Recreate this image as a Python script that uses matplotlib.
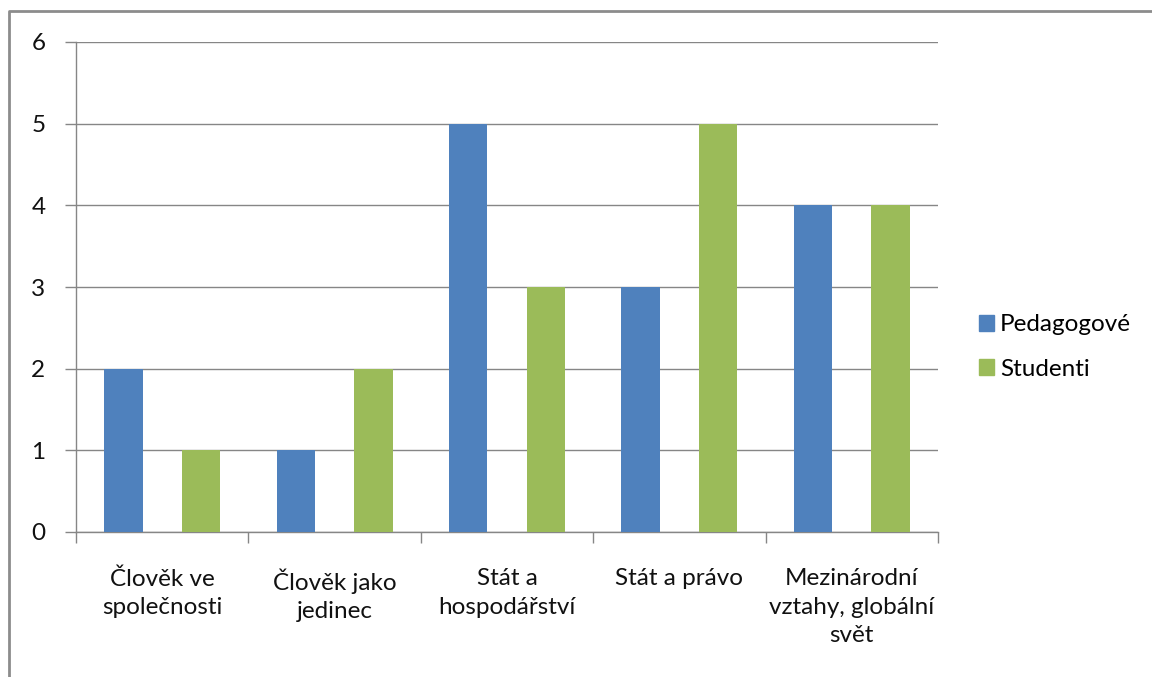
import matplotlib
matplotlib.use("Agg")
import matplotlib.pyplot as plt
import numpy as np
from matplotlib.lines import Line2D
from matplotlib.patches import Patch

categories = ["Člověk ve\nspolečnosti", "Člověk jako\njedinec", "Stát a\nhospodářství",
              "Stát a právo", "Mezinárodní\nvztahy, globální\nsvět"]
pedagogove = [2, 1, 5, 3, 4]
studenti = [1, 2, 3, 5, 4]
series_names = ["Pedagogové", "Studenti"]

plt.rcParams['font.family'] = ['Lato', 'DejaVu Sans']
blue = '#4F81BD'
green = '#9BBB59'
grid_c = '#868686'
fs = 17.5

fig = plt.figure(figsize=(11.52, 6.77), dpi=100)
ax = fig.add_axes([76 / 1152, 1 - 532 / 677, (938 - 76) / 1152, (532 - 42) / 677])

x = np.arange(len(categories))
w = 0.223
ax.bar(x - 0.225, pedagogove, w, color=blue, zorder=3)
ax.bar(x + 0.225, studenti, w, color=green, zorder=3)

ax.set_xlim(-0.5, len(categories) - 0.5)
ax.set_ylim(0, 6)
ax.set_yticks(range(7))
ax.yaxis.grid(True, color=grid_c, linewidth=1)
ax.set_axisbelow(True)

ax.set_xticks(x)
ax.set_xticklabels(categories, fontsize=fs, linespacing=1.45, color='#111111')
ax.set_xticks(np.arange(-0.5, len(categories)), minor=True)
ax.tick_params(axis='x', which='major', length=0, pad=26)
ax.tick_params(axis='x', which='minor', length=8, color=grid_c, width=1)
ax.tick_params(axis='y', length=8, color=grid_c, width=1, labelsize=fs, pad=14,
               labelcolor='#111111')

for s in ['top', 'right']:
    ax.spines[s].set_visible(False)
for s in ['left', 'bottom']:
    ax.spines[s].set_color(grid_c)
    ax.spines[s].set_linewidth(1)

handles = [Patch(color=blue), Patch(color=green)]
fig.legend(handles, series_names, loc='center left', bbox_to_anchor=(967 / 1152, 1 - 347 / 677),
           frameon=False, fontsize=fs, handlelength=0.6, handleheight=0.6,
           handletextpad=0.25, labelspacing=0.95, borderpad=0)

# outer chart border (only left and top visible in crop)
fig.add_artist(Line2D([8.5 / 1152, 8.5 / 1152, 1], [0, 1 - 10.5 / 677, 1 - 10.5 / 677],
                      transform=fig.transFigure, color='#8c8c8c', linewidth=2))

fig.savefig("out.png", dpi=100)
